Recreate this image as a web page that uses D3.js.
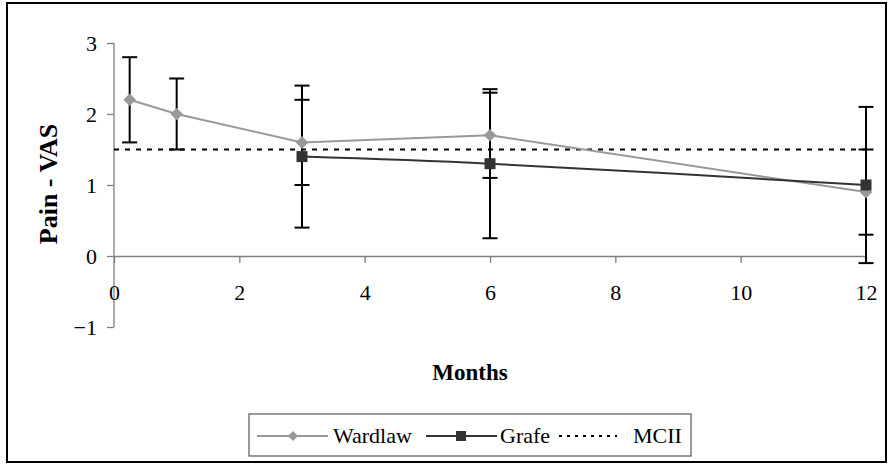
<!DOCTYPE html>
<html>
<head>
<meta charset="utf-8">
<script src="https://cdn.jsdelivr.net/npm/d3@7"></script>
<style>
  html, body { margin: 0; padding: 0; background: #fff; }
  svg { display: block; }
</style>
</head>
<body>
<svg id="chart" width="888" height="464"></svg>
<script>
// Pain (VAS) over follow-up, two cohorts plus the MCII threshold
const wardlawMonths = [0.25, 1, 3, 6, 12];
const wardlawPain   = [2.2, 2.0, 1.6, 1.7, 0.9];
const wardlawErr    = [0.6, 0.5, 0.6, 0.6, 0.6];

const grafeMonths = [3, 6, 12];
const grafePain   = [1.4, 1.3, 1.0];
const grafeErr    = [1.0, 1.05, 1.1];

const mciiValue = 1.5;

const xTicks = [0, 2, 4, 6, 8, 10, 12];
const yTicks = [-1, 0, 1, 2, 3];
const legendLabels = ["Wardlaw", "Grafe", "MCII"];

const serif = '"Liberation Serif", "DejaVu Serif", "Times New Roman", serif';
const svg = d3.select("#chart").attr("font-family", serif);

// outer frame
svg.append("rect")
  .attr("x", 7).attr("y", 3).attr("width", 879).attr("height", 459)
  .attr("fill", "#fff").attr("stroke", "#000").attr("stroke-width", 2);

const x = d3.scaleLinear().domain([0, 12]).range([114, 866]);
const y = d3.scaleLinear().domain([-1, 3]).range([327, 43]);

const axisColor = "#808080";

// y axis
const yAxis = svg.append("g")
  .attr("transform", `translate(${x(0)},0)`)
  .call(d3.axisLeft(y).tickValues(yTicks).tickSize(7).tickPadding(10).tickFormat(d3.format("d")));
yAxis.attr("font-family", serif);
yAxis.select(".domain").attr("stroke", axisColor).attr("stroke-width", 1.3)
  .attr("d", `M0,${y(3)}V${y(-1)}`);
yAxis.selectAll(".tick line").attr("stroke", axisColor).attr("stroke-width", 1.3);
yAxis.selectAll(".tick text")
  .attr("font-size", 22).attr("fill", "#000")
  .attr("dy", "0.34em");

// x axis along y = 0, labels pushed below the plot
const xAxis = svg.append("g")
  .attr("transform", `translate(0,${y(0)})`)
  .call(d3.axisBottom(x).tickValues(xTicks).tickSize(7).tickSizeOuter(0).tickPadding(0).tickFormat(d3.format("d")));
xAxis.attr("font-family", serif);
xAxis.select(".domain").attr("stroke", axisColor).attr("stroke-width", 1.3);
xAxis.selectAll(".tick line").attr("stroke", axisColor).attr("stroke-width", 1.3);
xAxis.selectAll(".tick text")
  .attr("font-size", 22).attr("fill", "#000")
  .attr("y", 44).attr("dy", "0");

// axis titles
svg.append("text")
  .attr("x", 470).attr("y", 380)
  .attr("text-anchor", "middle")
  .attr("font-size", 23).attr("font-weight", "bold")
  .text("Months");

svg.append("text")
  .attr("transform", `translate(57,184) rotate(-90)`)
  .attr("text-anchor", "middle")
  .attr("font-size", 26).attr("font-weight", "bold")
  .text("Pain - VAS");

const wardlaw = wardlawMonths.map((m, i) => ({ m, v: wardlawPain[i], e: wardlawErr[i] }));
const grafe = grafeMonths.map((m, i) => ({ m, v: grafePain[i], e: grafeErr[i] }));

// error bars
function errorBars(data) {
  const g = svg.append("g").attr("stroke", "#000").attr("stroke-width", 2).attr("fill", "none");
  data.forEach(d => {
    const cx = x(d.m), hi = y(d.v + d.e), lo = y(d.v - d.e);
    g.append("line").attr("x1", cx).attr("x2", cx).attr("y1", hi).attr("y2", lo);
    g.append("line").attr("x1", cx - 7.5).attr("x2", cx + 7.5).attr("y1", hi).attr("y2", hi);
    g.append("line").attr("x1", cx - 7.5).attr("x2", cx + 7.5).attr("y1", lo).attr("y2", lo);
  });
}
errorBars(wardlaw);
errorBars(grafe);

// MCII threshold
svg.append("line")
  .attr("x1", x(0)).attr("x2", x(12))
  .attr("y1", y(mciiValue)).attr("y2", y(mciiValue))
  .attr("stroke", "#000").attr("stroke-width", 2).attr("stroke-dasharray", "5,6");

const wardlawColor = "#999999";
const grafeColor = "#333333";

// Wardlaw series
svg.append("path")
  .datum(wardlaw)
  .attr("fill", "none").attr("stroke", wardlawColor).attr("stroke-width", 2)
  .attr("d", d3.line().x(d => x(d.m)).y(d => y(d.v)));
svg.selectAll(".wd").data(wardlaw).enter().append("path")
  .attr("d", d3.symbol().type(d3.symbolSquare).size(80))
  .attr("transform", d => `translate(${x(d.m)},${y(d.v)}) rotate(45)`)
  .attr("fill", wardlawColor);

// Grafe series (smoothed)
svg.append("path")
  .datum(grafe)
  .attr("fill", "none").attr("stroke", grafeColor).attr("stroke-width", 2)
  .attr("d", d3.line().curve(d3.curveCatmullRom.alpha(0.5)).x(d => x(d.m)).y(d => y(d.v)));
svg.selectAll(".gf").data(grafe).enter().append("rect")
  .attr("x", d => x(d.m) - 5.5).attr("y", d => y(d.v) - 5.5)
  .attr("width", 11).attr("height", 11)
  .attr("fill", grafeColor);

// legend
const lg = svg.append("g");
lg.append("rect")
  .attr("x", 249).attr("y", 414).attr("width", 442).attr("height", 42)
  .attr("fill", "#fff").attr("stroke", "#555").attr("stroke-width", 1.2);

const ly = 436;
lg.append("line").attr("x1", 257).attr("x2", 328).attr("y1", ly).attr("y2", ly)
  .attr("stroke", wardlawColor).attr("stroke-width", 2);
lg.append("path")
  .attr("d", d3.symbol().type(d3.symbolSquare).size(50))
  .attr("transform", `translate(293,${ly}) rotate(45)`)
  .attr("fill", wardlawColor);
lg.append("text").attr("x", 333).attr("y", ly).attr("dy", "0.34em")
  .attr("font-size", 22).text(legendLabels[0]);

lg.append("line").attr("x1", 426).attr("x2", 497).attr("y1", ly).attr("y2", ly)
  .attr("stroke", grafeColor).attr("stroke-width", 2);
lg.append("rect").attr("x", 461 - 5).attr("y", ly - 5).attr("width", 10).attr("height", 10)
  .attr("fill", grafeColor);
lg.append("text").attr("x", 500).attr("y", ly).attr("dy", "0.34em")
  .attr("font-size", 22).text(legendLabels[1]);

lg.append("line").attr("x1", 559).attr("x2", 617).attr("y1", ly).attr("y2", ly)
  .attr("stroke", "#000").attr("stroke-width", 2).attr("stroke-dasharray", "3,5");
lg.append("text").attr("x", 633).attr("y", ly).attr("dy", "0.34em")
  .attr("font-size", 22).text(legendLabels[2]);
</script>
</body>
</html>
